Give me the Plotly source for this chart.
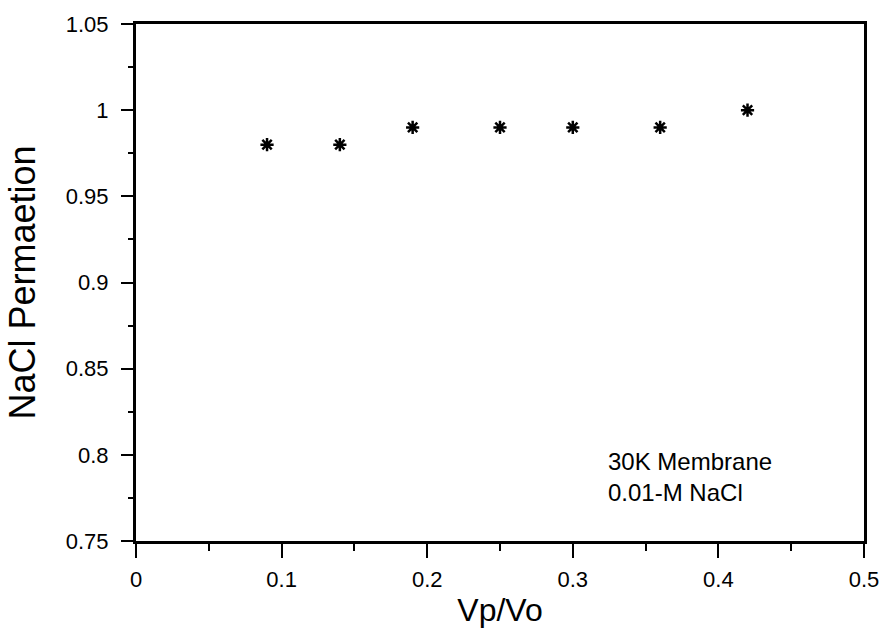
import plotly.graph_objects as go

vp_vo = [0.09, 0.14, 0.19, 0.25, 0.30, 0.36, 0.42]
nacl_permeation = [0.98, 0.98, 0.99, 0.99, 0.99, 0.99, 1.00]
x_ticks = [0, 0.1, 0.2, 0.3, 0.4, 0.5]
x_labels = ["0", "0.1", "0.2", "0.3", "0.4", "0.5"]
y_ticks = [0.75, 0.8, 0.85, 0.9, 0.95, 1.0, 1.05]
y_labels = ["0.75", "0.8", "0.85", "0.9", "0.95", "1", "1.05"]

font = "Liberation Sans, Arial, Helvetica, sans-serif"

fig = go.Figure()
fig.add_trace(go.Scatter(
    x=vp_vo, y=nacl_permeation, mode="markers",
    marker=dict(symbol="asterisk-open", size=11, color="black",
                line=dict(color="black", width=2.5)),
    showlegend=False,
))

fig.update_layout(
    width=891, height=639,
    margin=dict(l=136, r=19, t=19, b=98),
    plot_bgcolor="white", paper_bgcolor="white",
    font=dict(family=font, color="black"),
    xaxis=dict(
        range=[0, 0.5], tickvals=x_ticks, ticktext=x_labels,
        showgrid=False, zeroline=False, showline=True, linecolor="black",
        linewidth=3, mirror=True, ticks="outside", ticklen=14, tickwidth=2,
        tickcolor="black", tickfont=dict(size=22, family=font),
        ticklabelstandoff=3,
        minor=dict(dtick=0.05, ticks="outside", ticklen=7, tickwidth=1.5, tickcolor="black"),
        title=dict(text="Vp/Vo", font=dict(size=32, family=font), standoff=8),
    ),
    yaxis=dict(
        range=[0.75, 1.05], tickvals=y_ticks, ticktext=y_labels,
        showgrid=False, zeroline=False, showline=True, linecolor="black",
        linewidth=3, mirror=True, ticks="outside", ticklen=12, tickwidth=2,
        tickcolor="black", tickfont=dict(size=22, family=font),
        ticklabelstandoff=8,
        minor=dict(dtick=0.025, ticks="outside", ticklen=5, tickwidth=1.5, tickcolor="black"),
        title=dict(text="NaCl Permaetion", font=dict(size=36, family=font), standoff=20),
    ),
    annotations=[
        dict(x=0.323, y=0.787, xref="x", yref="y", xanchor="left", yanchor="middle",
             text="30K Membrane<br>0.01-M NaCl", showarrow=False, align="left",
             font=dict(size=24, family=font, color="black")),
    ],
)

fig.write_html("out.html", config={"displayModeBar": False},
               post_script="document.body.style.margin='0';")
